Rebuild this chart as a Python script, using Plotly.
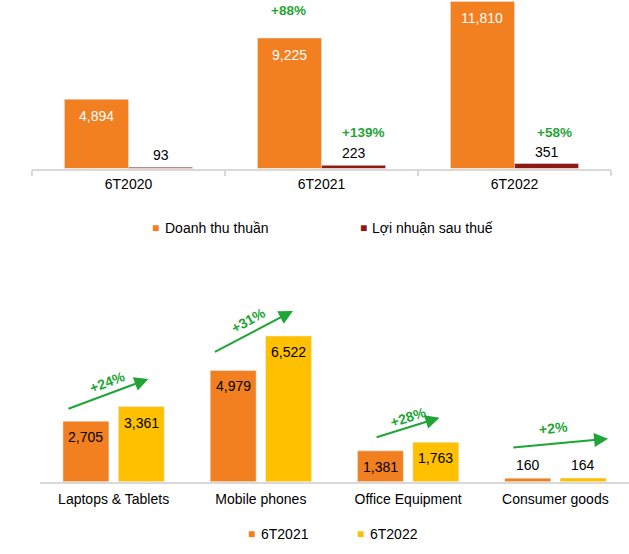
import plotly.graph_objects as go

# ---------------- data ----------------
periods = ["6T2020", "6T2021", "6T2022"]
revenue = [4894, 9225, 11810]
profit = [93, 223, 351]
top_series = ["Doanh thu thuần", "Lợi nhuận sau thuế"]
top_growth = ["+88%", "+139%", "+58%"]

segments = ["Laptops & Tablets", "Mobile phones", "Office Equipment", "Consumer goods"]
seg_2021 = [2705, 4979, 1381, 160]
seg_2022 = [3361, 6522, 1763, 164]
bottom_series = ["6T2021", "6T2022"]
seg_growth = ["+24%", "+31%", "+28%", "+2%"]

# ---------------- style ----------------
W, H = 629, 554
FONT = "Liberation Sans, Arial, sans-serif"
ORANGE = "#F28021"
DARKRED = "#8E1B12"
YELLOW = "#FFC000"
GREEN = "#1FA535"
AXIS = "#d9d9d9"

TW = 0.332              # top bar width (category units)
BW, BG = 0.312, 0.064   # bottom bar width and gap

def px_x(p):
    return p / W

def px_y(p):
    return 1 - p / H

fig = go.Figure()
fig.add_trace(go.Bar(x=periods, y=revenue, name=top_series[0], marker_color=ORANGE,
                     width=TW, offset=-TW, xaxis="x", yaxis="y", showlegend=False))
fig.add_trace(go.Bar(x=periods, y=profit, name=top_series[1], marker_color=DARKRED,
                     width=TW, offset=0, xaxis="x", yaxis="y", showlegend=False))
fig.add_trace(go.Bar(x=segments, y=seg_2021, name=bottom_series[0], marker_color=ORANGE,
                     width=BW, offset=-BW - BG / 2, xaxis="x2", yaxis="y2", showlegend=False))
fig.add_trace(go.Bar(x=segments, y=seg_2022, name=bottom_series[1], marker_color=YELLOW,
                     width=BW, offset=BG / 2, xaxis="x2", yaxis="y2", showlegend=False))

ann = []
# top value labels
for i, v in enumerate(revenue):
    ann.append(dict(x=i - TW / 2, y=v, xref="x", yref="y", text=f"{v:,}", showarrow=False,
                    yshift=-16.5, font=dict(size=14, color="white", family=FONT)))
for i, v in enumerate(profit):
    ann.append(dict(x=i + TW / 2, y=v, xref="x", yref="y", text=f"{v:,}", showarrow=False,
                    yshift=12, font=dict(size=14, color="black", family=FONT)))
# bottom value labels
for vals, off in ((seg_2021, -BW / 2 - BG / 2), (seg_2022, BW / 2 + BG / 2)):
    for i, v in enumerate(vals):
        inside = v > 1000
        ann.append(dict(x=i + off, y=v, xref="x2", yref="y2", text=f"{v:,}", showarrow=False,
                        yshift=-16 if inside else 13, font=dict(size=14, color="black", family=FONT)))

# top growth labels (positions in axis units)
top_growth_pos = [(0.831, 11205), (1.215, 2580), (2.208, 2580)]
for t, (x, y) in zip(top_growth, top_growth_pos):
    ann.append(dict(x=x, y=y, xref="x", yref="y", text=f"<b>{t}</b>", showarrow=False,
                    font=dict(size=13.5, color=GREEN, family=FONT)))

# bottom growth arrows and labels
arrow_pos = [((-0.317, 3241), (0.236, 4597)),
             ((0.678, 5774), (1.2175, 7641)),
             ((1.776, 1970), (2.213, 2865)),
             ((2.704, 1522), (3.358, 1925))]
label_pos = [(-0.042, 4476, -21), (0.918, 7238, -29), (2.003, 2883, -18), (2.99, 2390, -6)]
for (tail, head) in arrow_pos:
    ann.append(dict(x=head[0], y=head[1], ax=tail[0], ay=tail[1], xref="x2", yref="y2",
                    axref="x2", ayref="y2", text="", showarrow=True, arrowhead=2,
                    arrowsize=1.4, arrowwidth=2, arrowcolor=GREEN, standoff=0))
for t, (x, y, ang) in zip(seg_growth, label_pos):
    ann.append(dict(x=x, y=y, xref="x2", yref="y2", text=f"<b>{t}</b>", showarrow=False,
                    textangle=ang, font=dict(size=14, color=GREEN, family=FONT)))

# custom legends
legend_items = [(top_series[0], ORANGE, 155.6, 162.5, 228),
                (top_series[1], DARKRED, 363.0, 369.8, 228),
                (bottom_series[0], ORANGE, 251.5, 258.7, 534),
                (bottom_series[1], YELLOW, 360.6, 367.8, 534)]
for name, col, sx, tx, y in legend_items:
    ann.append(dict(x=px_x(sx), y=px_y(y), xref="paper", yref="paper", text="■",
                    showarrow=False, xanchor="center", yanchor="middle",
                    font=dict(size=12, color=col, family=FONT)))
    ann.append(dict(x=px_x(tx), y=px_y(y), xref="paper", yref="paper", text=name,
                    showarrow=False, xanchor="left", yanchor="middle",
                    font=dict(size=14, color="black", family=FONT)))

fig.update_layout(
    width=W, height=H,
    margin=dict(l=0, r=0, t=0, b=0),
    paper_bgcolor="white", plot_bgcolor="white",
    barmode="overlay",
    font=dict(family=FONT, size=14, color="black"),
    xaxis=dict(domain=[px_x(32), px_x(611)], anchor="y", type="category", range=[-0.5, 2.5],
               showline=True, linecolor=AXIS, linewidth=1.5, ticks="outside",
               tickson="boundaries", ticklen=6, tickcolor=AXIS, tickwidth=1.5,
               ticklabelstandoff=2,
               tickfont=dict(size=14, family=FONT), showgrid=False, fixedrange=True),
    yaxis=dict(domain=[px_y(168.5), 1], anchor="x", range=[0, 11912], visible=False,
               fixedrange=True),
    xaxis2=dict(domain=[px_x(40), 1], anchor="y2", type="category", range=[-0.5, 3.5],
                showline=True, linecolor=AXIS, linewidth=1.5, ticks="",
                ticklabelstandoff=4,
                tickfont=dict(size=14, family=FONT), showgrid=False, fixedrange=True),
    yaxis2=dict(domain=[px_y(481.7), px_y(290)], anchor="x2",
                range=[0, (481.7 - 290) / 0.02234], visible=False, fixedrange=True),
    annotations=ann,
)

fig.write_html("out.html", config={"displayModeBar": False},
               post_script="document.body.style.margin='0';document.body.style.overflow='hidden';")
